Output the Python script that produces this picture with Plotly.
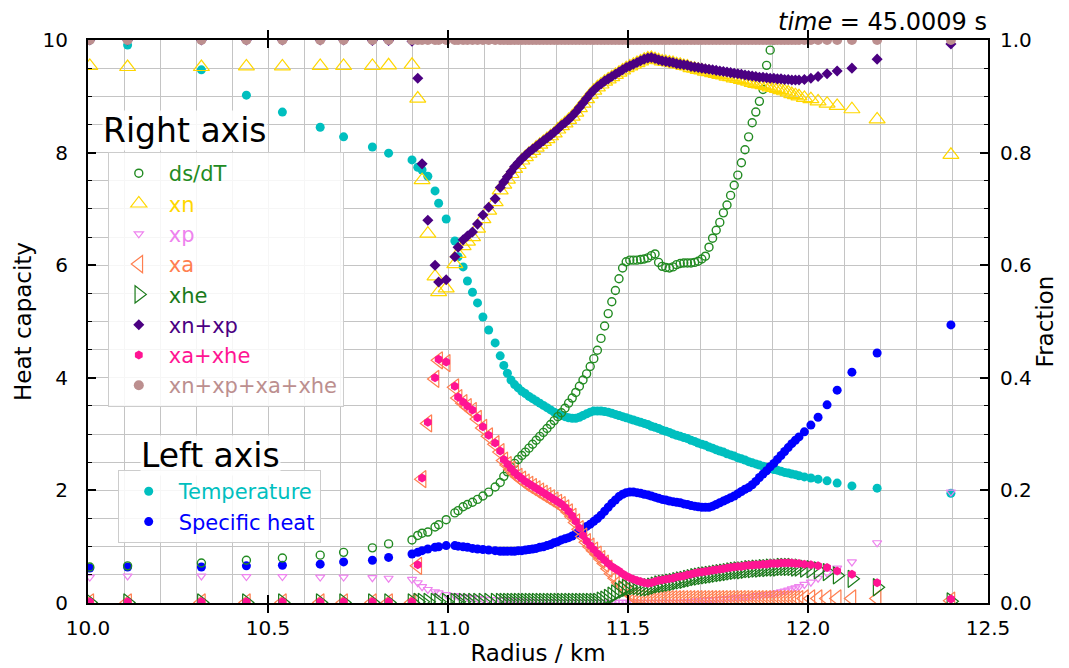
import plotly.graph_objects as go

# ---------------- data ----------------
radius = [
    10.005, 10.11, 10.315, 10.44, 10.54, 10.645, 10.71, 10.79, 10.835, 10.9,
    10.916, 10.928, 10.944, 10.964, 10.974, 10.995, 11.019, 11.028, 11.042, 11.054,
    11.068, 11.082, 11.097, 11.113, 11.131, 11.145,
    11.155, 11.165, 11.175, 11.185, 11.195, 11.205, 11.215, 11.225, 11.235, 11.245,
    11.255, 11.265, 11.275, 11.285, 11.295, 11.305, 11.315, 11.325, 11.335, 11.345,
    11.355, 11.365, 11.375, 11.385, 11.395, 11.405, 11.415, 11.425, 11.435, 11.445,
    11.455, 11.465, 11.475, 11.485, 11.495, 11.505, 11.515, 11.525, 11.535, 11.545,
    11.555, 11.565, 11.575, 11.585, 11.595, 11.605, 11.615, 11.625, 11.635, 11.645,
    11.655, 11.665, 11.675, 11.685, 11.695, 11.705, 11.715, 11.725, 11.735, 11.745,
    11.755, 11.765, 11.775, 11.785, 11.795, 11.805, 11.815, 11.825, 11.835, 11.845,
    11.855, 11.865, 11.875, 11.885, 11.895, 11.905, 11.915, 11.925, 11.935, 11.945,
    11.955, 11.965, 11.975,
    11.99, 12.008, 12.028, 12.053, 12.081, 12.122, 12.192, 12.397,
]

temperature = [
    10.0, 9.91, 9.47, 9.02, 8.72, 8.45, 8.28, 8.10, 7.99, 7.87,
    7.74, 7.69, 7.58, 7.32, 7.10, 6.82, 6.43, 6.15, 5.97, 5.72,
    5.52, 5.33, 5.08, 4.85, 4.62, 4.39,
    4.22, 4.08, 3.96, 3.88, 3.82, 3.76, 3.72, 3.67, 3.63, 3.59,
    3.55, 3.51, 3.47, 3.43, 3.39, 3.36, 3.33, 3.31, 3.29, 3.28,
    3.28, 3.30, 3.33, 3.36, 3.39, 3.41, 3.41, 3.41, 3.40, 3.39,
    3.37, 3.35, 3.33, 3.31, 3.29, 3.27, 3.25, 3.23, 3.21, 3.19,
    3.17, 3.14, 3.12, 3.10, 3.07, 3.05, 3.03, 3.00, 2.98, 2.96,
    2.94, 2.92, 2.89, 2.87, 2.84, 2.82, 2.80, 2.77, 2.75, 2.72,
    2.70, 2.68, 2.65, 2.63, 2.61, 2.58, 2.56, 2.54, 2.51, 2.49,
    2.47, 2.45, 2.43, 2.41, 2.39, 2.37, 2.36, 2.34, 2.32, 2.31,
    2.29, 2.28, 2.26,
    2.24, 2.22, 2.20, 2.17, 2.13, 2.08, 2.04, 1.95,
]

specific_heat = [
    0.62, 0.64, 0.64, 0.66, 0.67, 0.69, 0.73, 0.76, 0.81, 0.87,
    0.90, 0.93, 0.96, 0.99, 1.00, 1.02, 1.02, 1.01, 1.00, 0.99,
    0.97, 0.96, 0.95, 0.94, 0.93, 0.92,
    0.92, 0.92, 0.92, 0.92, 0.93, 0.93, 0.94, 0.95, 0.96, 0.97,
    0.99, 1.00, 1.02, 1.04, 1.07, 1.09, 1.12, 1.14, 1.16, 1.19,
    1.23, 1.27, 1.31, 1.36, 1.40, 1.45, 1.50, 1.56, 1.63, 1.70,
    1.77, 1.83, 1.89, 1.93, 1.96, 1.97, 1.97, 1.96, 1.95, 1.93,
    1.92, 1.90, 1.88, 1.86, 1.84, 1.83, 1.81, 1.80, 1.79, 1.78,
    1.76, 1.75, 1.73, 1.72, 1.71, 1.70, 1.70, 1.70, 1.72, 1.75,
    1.78, 1.81, 1.84, 1.87, 1.90, 1.94, 1.98, 2.02, 2.05, 2.10,
    2.16, 2.23, 2.29, 2.35, 2.42, 2.48, 2.55, 2.62, 2.69, 2.76,
    2.83, 2.89, 2.95,
    3.04, 3.16, 3.30, 3.52, 3.78, 4.10, 4.44, 4.94,
]

ds_dT = [
    0.064, 0.066, 0.071, 0.076, 0.080, 0.085, 0.090, 0.098, 0.105, 0.112,
    0.120, 0.124, 0.126, 0.135, 0.139, 0.148, 0.160, 0.164, 0.171, 0.175,
    0.179, 0.184, 0.190, 0.197, 0.206, 0.214,
    0.225, 0.233, 0.241, 0.248, 0.255, 0.262, 0.268, 0.275, 0.282, 0.289,
    0.296, 0.303, 0.310, 0.317, 0.324, 0.331, 0.338, 0.346, 0.355, 0.364,
    0.374, 0.385, 0.396, 0.407, 0.420, 0.434, 0.449, 0.470, 0.492, 0.514,
    0.535, 0.555, 0.576, 0.595, 0.606, 0.609, 0.609, 0.609, 0.610, 0.611,
    0.613, 0.617, 0.620, 0.605, 0.598, 0.596, 0.595, 0.597, 0.601, 0.603,
    0.604, 0.604, 0.604, 0.605, 0.607, 0.611, 0.616, 0.632, 0.648, 0.662,
    0.676, 0.693, 0.707, 0.724, 0.742, 0.760, 0.782, 0.805, 0.828, 0.853,
    0.872, 0.891, 0.912, 0.955, 0.982, 1.000, None, None, None, None,
    None, None, None,
    None, None, None, None, None, None, None, None,
]

xn_plus_xp = [
    1.000, 1.000, 1.000, 1.000, 1.000, 1.000, 1.000, 0.999, 0.999, 0.998,
    0.932, 0.780, 0.680, 0.600, 0.570, 0.574, 0.615, 0.632, 0.645, 0.652,
    0.659, 0.673, 0.689, 0.703, 0.718, 0.738,
    0.748, 0.757, 0.766, 0.775, 0.782, 0.789, 0.795, 0.801, 0.806, 0.811,
    0.816, 0.821, 0.826, 0.831, 0.836, 0.842, 0.848, 0.853, 0.859, 0.865,
    0.872, 0.880, 0.888, 0.896, 0.904, 0.911, 0.917, 0.922, 0.927, 0.931,
    0.935, 0.939, 0.943, 0.947, 0.951, 0.954, 0.957, 0.960, 0.963, 0.966,
    0.968, 0.969, 0.967, 0.965, 0.963, 0.962, 0.961, 0.960, 0.958, 0.957,
    0.956, 0.955, 0.953, 0.952, 0.951, 0.950, 0.949, 0.948, 0.947, 0.946,
    0.945, 0.944, 0.943, 0.942, 0.941, 0.940, 0.939, 0.938, 0.937, 0.936,
    0.935, 0.934, 0.934, 0.933, 0.932, 0.932, 0.931, 0.931, 0.930, 0.930,
    0.929, 0.929, 0.929,
    0.930, 0.932, 0.935, 0.940, 0.945, 0.950, 0.966, 0.993,
]

xp = [
    0.046, 0.048, 0.048, 0.047, 0.047, 0.046, 0.046, 0.045, 0.044, 0.042,
    0.036, 0.029, 0.024, 0.020, 0.018, 0.015, 0.013, 0.012, 0.011, 0.010,
    0.009, 0.008, 0.007, 0.006, 0.006, 0.005,
    0.005, 0.005, 0.004, 0.004, 0.004, 0.003, 0.003, 0.003, 0.003, 0.002,
    0.002, 0.002, 0.002, 0.002, 0.002, 0.001, 0.001, 0.001, 0.001, 0.001,
    0.001, 0.001, 0.001, 0.001, 0.001, 0.001, 0.001, 0.001, 0.001, 0.001,
    0.001, 0.001, 0.001, 0.001, 0.001, 0.001, 0.001, 0.001, 0.001, 0.001,
    0.001, 0.001, 0.001, 0.001, 0.001, 0.001, 0.001, 0.001, 0.001, 0.001,
    0.002, 0.002, 0.003, 0.003, 0.004, 0.004, 0.005, 0.005, 0.006, 0.006,
    0.007, 0.007, 0.008, 0.008, 0.009, 0.009, 0.010, 0.010, 0.011, 0.012,
    0.013, 0.013, 0.014, 0.015, 0.016, 0.017, 0.018, 0.020, 0.021, 0.023,
    0.025, 0.027, 0.029,
    0.033, 0.037, 0.044, 0.053, 0.062, 0.073, 0.107, 0.197,
]

xa = [
    0.001, 0.001, 0.001, 0.001, 0.001, 0.001, 0.001, 0.001, 0.001, 0.001,
    0.066, 0.220, 0.319, 0.398, 0.431, 0.426, 0.383, 0.364, 0.355, 0.348,
    0.341, 0.327, 0.311, 0.296, 0.282, 0.268,
    0.253, 0.245, 0.237, 0.230, 0.224, 0.219, 0.214, 0.210, 0.206, 0.202,
    0.198, 0.194, 0.190, 0.186, 0.182, 0.178, 0.174, 0.168, 0.161, 0.153,
    0.143, 0.131, 0.118, 0.108, 0.100, 0.093, 0.086, 0.078, 0.070, 0.061,
    0.052, 0.044, 0.036, 0.028, 0.021, 0.016, 0.012, 0.010, 0.009, 0.008,
    0.007, 0.007, 0.007, 0.007, 0.007, 0.007, 0.007, 0.007, 0.007, 0.007,
    0.007, 0.007, 0.007, 0.007, 0.007, 0.007, 0.007, 0.007, 0.007, 0.007,
    0.007, 0.007, 0.007, 0.007, 0.007, 0.007, 0.007, 0.007, 0.007, 0.007,
    0.007, 0.007, 0.007, 0.007, 0.007, 0.007, 0.007, 0.007, 0.007, 0.007,
    0.007, 0.007, 0.007,
    0.008, 0.008, 0.008, 0.008, 0.008, 0.008, 0.008, 0.004,
]

xhe = [
    0.001, 0.001, 0.001, 0.001, 0.001, 0.001, 0.001, 0.001, 0.001, 0.001,
    0.002, 0.002, 0.002, 0.002, 0.002, 0.002, 0.002, 0.002, 0.002, 0.002,
    0.002, 0.002, 0.002, 0.002, 0.002, 0.002,
    0.002, 0.002, 0.002, 0.002, 0.002, 0.002, 0.002, 0.002, 0.002, 0.002,
    0.002, 0.002, 0.002, 0.002, 0.002, 0.002, 0.002, 0.002, 0.002, 0.002,
    0.002, 0.002, 0.002, 0.002, 0.002, 0.002, 0.002, 0.004, 0.006, 0.009,
    0.013, 0.017, 0.021, 0.024, 0.027, 0.029, 0.030, 0.030, 0.029, 0.028,
    0.028, 0.029, 0.031, 0.033, 0.034, 0.035, 0.036, 0.037, 0.039, 0.040,
    0.041, 0.043, 0.044, 0.046, 0.047, 0.048, 0.049, 0.050, 0.051, 0.052,
    0.053, 0.054, 0.055, 0.056, 0.057, 0.058, 0.058, 0.059, 0.060, 0.060,
    0.061, 0.061, 0.062, 0.062, 0.063, 0.063, 0.063, 0.064, 0.064, 0.064,
    0.064, 0.063, 0.063,
    0.061, 0.060, 0.058, 0.055, 0.049, 0.043, 0.028, 0.003,
]

xn_xp_xa_xhe = [
    1.0, 1.0, 1.0, 1.0, 1.0, 1.0, 1.0, 1.0, 1.0, 1.0,
    1.0, 1.0, 1.0, 1.0, 1.0, 1.0, 1.0, 1.0, 1.0, 1.0,
    1.0, 1.0, 1.0, 1.0, 1.0, 1.0,
    1.0, 1.0, 1.0, 1.0, 1.0, 1.0, 1.0, 1.0, 1.0, 1.0,
    1.0, 1.0, 1.0, 1.0, 1.0, 1.0, 1.0, 1.0, 1.0, 1.0,
    1.0, 1.0, 1.0, 1.0, 1.0, 1.0, 1.0, 1.0, 1.0, 1.0,
    1.0, 1.0, 1.0, 1.0, 1.0, 1.0, 1.0, 1.0, 1.0, 1.0,
    1.0, 1.0, 1.0, 1.0, 1.0, 1.0, 1.0, 1.0, 1.0, 1.0,
    1.0, 1.0, 1.0, 1.0, 1.0, 1.0, 1.0, 1.0, 1.0, 1.0,
    1.0, 1.0, 1.0, 1.0, 1.0, 1.0, 1.0, 1.0, 1.0, 1.0,
    1.0, 1.0, 1.0, 1.0, 1.0, 1.0, 1.0, 1.0, 1.0, 1.0,
    1.0, 1.0, 1.0,
    1.0, 1.0, 1.0, 1.0, 1.0, 1.0, 1.0, 1.0,
]

x_ticks = [10.0, 10.5, 11.0, 11.5, 12.0, 12.5]
x_tick_labels = ["10.0", "10.5", "11.0", "11.5", "12.0", "12.5"]

n = len(radius)
for arr in (temperature, specific_heat, ds_dT, xn_plus_xp, xp, xa, xhe, xn_xp_xa_xhe):
    assert len(arr) == n, (len(arr), n)

# derived series
xn = [round(a - b, 4) for a, b in zip(xn_plus_xp, xp)]
xa_plus_xhe = [round(a + b, 4) for a, b in zip(xa, xhe)]

# ---------------- figure ----------------
FONT = "DejaVu Sans"


def lab(text, color):
    return f"<span style='color:{color}'>{text}</span>"


fig = go.Figure()

# left axis series
fig.add_trace(go.Scatter(
    x=radius, y=temperature, mode="markers", yaxis="y", legend="legend2",
    name=lab("Temperature", "#00bfbf"),
    marker=dict(symbol="circle", size=9, color="#00bfbf", line=dict(width=0))))
fig.add_trace(go.Scatter(
    x=radius, y=specific_heat, mode="markers", yaxis="y", legend="legend2",
    name=lab("Specific heat", "#0000ff"),
    marker=dict(symbol="circle", size=9, color="#0000ff", line=dict(width=0))))

# right axis series
right_series = [
    ("ds/dT", ds_dT, "circle-open", 8, "#228b22", 1.4),
    ("xn", xn, "triangle-up-open", 14, "#ffd700", 1.2),
    ("xp", xp, "triangle-down-open", 8, "#ee82ee", 1.2),
    ("xa", xa, "triangle-left-open", 15, "#ff7f50", 1.2),
    ("xhe", xhe, "triangle-right-open", 15, "#1a7a1a", 1.2),
    ("xn+xp", xn_plus_xp, "diamond", 8.5, "#4b0082", 0),
    ("xa+xhe", xa_plus_xhe, "hexagon", 9, "#ff1493", 0),
    ("xn+xp+xa+xhe", xn_xp_xa_xhe, "circle", 10, "#bc8f8f", 0),
]
for name, vals, sym, size, color, lw in right_series:
    fig.add_trace(go.Scatter(
        x=radius, y=vals, mode="markers", yaxis="y2", legend="legend",
        name=lab(name, color),
        marker=dict(symbol=sym, size=size, color=color,
                    line=dict(width=lw, color=color))))

grid_col = "#c4c4c4"
axis_common = dict(
    showline=True, linecolor="black", linewidth=2,
    ticks="inside", ticklen=8, tickwidth=1.5, tickcolor="black",
    zeroline=False, automargin=False,
    tickfont=dict(family=FONT, size=20, color="black"),
)
title_font = dict(family=FONT, size=23, color="black")

# the page body adds an 8 px offset, compensated in the margins
fig.update_layout(
    width=1069, height=668,
    margin=dict(l=80, r=89, t=32, b=73, autoexpand=False),
    paper_bgcolor="white", plot_bgcolor="white",
    showlegend=True,
    xaxis=dict(
        range=[10, 12.5], tickvals=x_ticks, ticktext=x_tick_labels,
        mirror="allticks", showgrid=True, gridcolor=grid_col, gridwidth=1.2,
        minor=dict(dtick=0.1, tick0=10, showgrid=True, gridcolor=grid_col, gridwidth=1.2, ticks=""),
        title=dict(text="Radius / km", font=title_font, standoff=6),
        ticklabelstandoff=6,
        **axis_common,
    ),
    yaxis=dict(
        range=[0, 10], dtick=2, tick0=0, mirror=False,
        showgrid=True, gridcolor=grid_col, gridwidth=1.2,
        minor=dict(dtick=0.5, tick0=0, showgrid=True, gridcolor=grid_col, gridwidth=1.2,
                   ticks="inside", ticklen=4, tickwidth=1.2, tickcolor="black"),
        title=dict(text="Heat capacity", font=title_font, standoff=4),
        ticklabelstandoff=14,
        **axis_common,
    ),
    yaxis2=dict(
        range=[0, 1], dtick=0.2, tick0=0, tickformat=".1f",
        overlaying="y", side="right", showgrid=False,
        minor=dict(dtick=0.05, tick0=0, showgrid=False,
                   ticks="inside", ticklen=4, tickwidth=1.2, tickcolor="black"),
        title=dict(text="Fraction", font=title_font, standoff=6),
        ticklabelstandoff=6,
        **axis_common,
    ),
    legend=dict(
        x=0.022, y=0.801, xanchor="left", yanchor="top",
        bgcolor="rgba(255,255,255,0.85)", bordercolor="#cccccc", borderwidth=1,
        font=dict(family=FONT, size=21), itemwidth=50, traceorder="normal",
    ),
    legend2=dict(
        x=0.033, y=0.236, xanchor="left", yanchor="top",
        bgcolor="rgba(255,255,255,0.85)", bordercolor="#cccccc", borderwidth=1,
        font=dict(family=FONT, size=21), itemwidth=50, traceorder="normal",
    ),
    annotations=[
        dict(text="Right axis", x=0.0156, y=0.84, xref="paper", yref="paper",
             xanchor="left", yanchor="middle", showarrow=False,
             font=dict(family=FONT, size=33, color="black"),
             bgcolor="rgba(255,255,255,0.85)", borderpad=0),
        dict(text="Left axis", x=0.058, y=0.262, xref="paper", yref="paper",
             xanchor="left", yanchor="middle", showarrow=False,
             font=dict(family=FONT, size=33, color="black"),
             bgcolor="rgba(255,255,255,0.85)", borderpad=0),
        dict(text="<i>time</i> = 45.0009 s", x=1.0, y=1.0, xref="paper", yref="paper",
             xanchor="right", yanchor="bottom", showarrow=False, yshift=3,
             font=dict(family=FONT, size=24, color="black"), borderpad=0),
    ],
)

fig.write_html("out.html")
